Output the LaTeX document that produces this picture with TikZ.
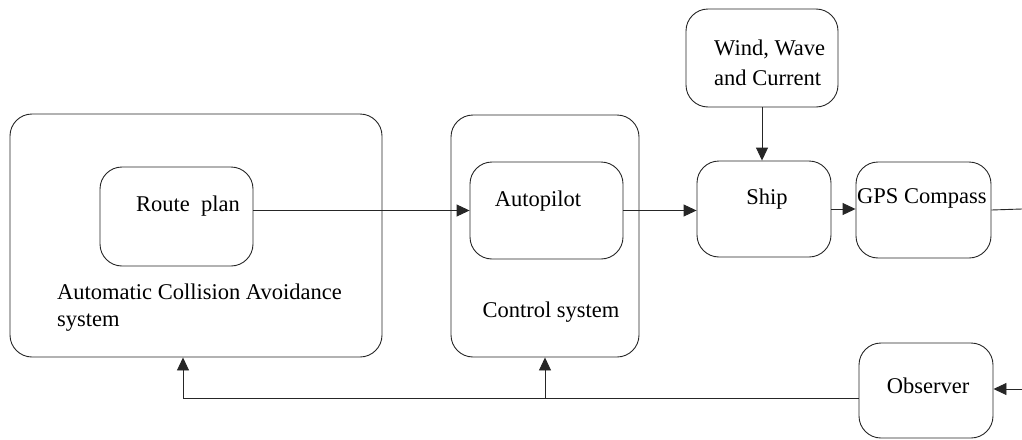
\documentclass[tikz,border=0pt]{standalone}
\usepackage{fontspec}
\setmainfont{Liberation Serif}
\usetikzlibrary{arrows.meta}
\tikzset{
  blk/.style={draw=black!85, rounded corners=22pt, line width=0.9pt, inner sep=0pt},
  txt/.style={inner sep=0pt, font=\fontsize{22.5}{27}\selectfont},
  arr/.style={draw=black!85, line width=0.9pt, -{Triangle[length=13pt, width=12pt]}},
}
\begin{document}
\begin{tikzpicture}[x=1pt, y=-1pt]
    \useasboundingbox (0,0) rectangle (1022,439);

    % boxes
    \node[blk, minimum width=372pt, minimum height=243pt] (aca) at (196,235.5) {};
    \node[blk, minimum width=153pt, minimum height=99pt] (route) at (176.5,216.5) {};
    \node[blk, minimum width=188pt, minimum height=242pt] (ctrl) at (545,236) {};
    \node[blk, minimum width=153pt, minimum height=97pt] (auto) at (546.5,210.5) {};
    \node[blk, minimum width=152pt, minimum height=98pt] (wind) at (762,58) {};
    \node[blk, minimum width=134pt, minimum height=96pt] (ship) at (764,209) {};
    \node[blk, minimum width=135pt, minimum height=96pt] (gps) at (923.5,210) {};
    \node[blk, minimum width=134pt, minimum height=95pt] (obs) at (926,390.5) {};

    % texts
    \node[txt, anchor=base] (routetxt) at (188,211) {Route\ \ plan};
    \node[txt, anchor=base] (autotxt) at (538,206) {Autopilot};
    \node[txt, anchor=base] (ctrltxt) at (551,317) {Control system};
    \node[txt, anchor=north west, align=left] (acatxt) at (57,284) {Automatic Collision Avoidance\\system};
    \node[txt, anchor=north west, align=left, font=\fontsize{22.5}{30}\selectfont] (windtxt) at (714,40) {Wind, Wave\\and Current};
    \node[txt, anchor=base] (shiptxt) at (767,204) {Ship};
    \node[txt, anchor=base west] (gpstxt) at (857,203) {GPS Compass};
    \node[txt, anchor=base] (obstxt) at (928,393) {Observer};

    \coordinate (gpsout) at (1022,209);
    \coordinate (obsin) at (1022,389);
    \coordinate (fb) at ([yshift=-7.5pt]obs.west);

    % signal flow
    \draw[arr] ([yshift=6pt]route.east) -- ([yshift=6pt]route.east -| auto.west);
    \draw[arr] (auto.east) -- (auto.east -| ship.west);
    \draw[arr] (wind.south) -- (wind.south |- ship.north);
    \draw[arr] (ship.east) -- (ship.east -| gps.west);
    \draw[draw=black!85, line width=0.9pt] (gps.east) -- (gpsout);
    \draw[arr] (obsin) -- (obsin -| obs.east);
    \draw[arr] (fb) -| ([xshift=-13pt]aca.south);
    \draw[arr] (fb -| ctrl.south) -- (ctrl.south);
\end{tikzpicture}
\end{document}
